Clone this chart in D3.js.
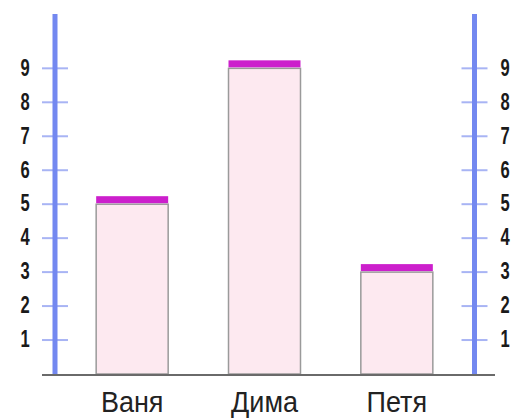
<!DOCTYPE html>
<html>
<head>
<meta charset="utf-8">
<script src="https://cdn.jsdelivr.net/npm/d3@7"></script>
<style>
  body { margin: 0; background: #fff; }
</style>
</head>
<body>
<div id="chart"></div>
<script>
//Data
var names = ["Ваня", "Дима", "Петя"];
var values = [5, 9, 3];
var ticks = [1, 2, 3, 4, 5, 6, 7, 8, 9];

//Sizes
var width = 515, height = 419;
var axisLeftX = 55, axisRightX = 474.5;
var yTop = 10.6;

var svg = d3.select("#chart").append("svg")
  .attr("width", width)
  .attr("height", height);

var x = d3.scalePoint()
  .domain(names)
  .range([66, 463])
  .padding(0.5);

var y = d3.scaleLinear()
  .domain([0, yTop])
  .range([374, 14]);

var barW = 72;

//Bars
svg.selectAll(".bar")
  .data(values)
  .enter()
  .append("rect")
  .attr("class", "bar")
  .attr("x", function(d, i) { return x(names[i]) - barW / 2; })
  .attr("y", function(d) { return y(d); })
  .attr("width", barW)
  .attr("height", function(d) { return y(0) - y(d); })
  .attr("fill", "#fde9f0")
  .attr("stroke", "#9a9a9a")
  .attr("stroke-width", 1.5);

//Magenta caps
svg.selectAll(".cap")
  .data(values)
  .enter()
  .append("rect")
  .attr("class", "cap")
  .attr("x", function(d, i) { return x(names[i]) - barW / 2; })
  .attr("y", function(d) { return y(d) - 8; })
  .attr("width", barW)
  .attr("height", 7)
  .attr("fill", "#cc1fcc");

//Baseline
svg.append("line")
  .attr("x1", 42).attr("x2", 495)
  .attr("y1", y(0) + 1).attr("y2", y(0) + 1)
  .attr("stroke", "#6a6a6a")
  .attr("stroke-width", 2);

//Axes (left and right)
function drawAxis(ax, labelX) {
  var g = svg.append("g");
  g.selectAll("line.tick")
    .data(ticks)
    .enter()
    .append("line")
    .attr("class", "tick")
    .attr("x1", ax - 13).attr("x2", ax + 13)
    .attr("y1", function(d) { return y(d); })
    .attr("y2", function(d) { return y(d); })
    .attr("stroke", "#a8b4f4")
    .attr("stroke-width", 2);
  g.append("line")
    .attr("x1", ax).attr("x2", ax)
    .attr("y1", y(0)).attr("y2", y(yTop))
    .attr("stroke", "#7388f0")
    .attr("stroke-width", 5);
  g.selectAll("text")
    .data(ticks)
    .enter()
    .append("text")
    .attr("transform", function(d) { return "translate(" + labelX + "," + (y(d) - 1) + ") scale(0.72,1)"; })
    .attr("dy", "0.36em")
    .attr("text-anchor", "middle")
    .style("font-family", "'Liberation Sans', Arial, sans-serif")
    .style("font-weight", "bold")
    .style("font-size", "23px")
    .attr("fill", "#1a1a1a")
    .text(function(d) { return d; });
}
drawAxis(axisLeftX, 25);
drawAxis(axisRightX, 505);

//Category labels
svg.selectAll(".cat")
  .data(names)
  .enter()
  .append("text")
  .attr("class", "cat")
  .attr("transform", function(d) { return "translate(" + x(d) + ",412) scale(0.9,1)"; })
  .attr("text-anchor", "middle")
  .style("font-family", "'Liberation Sans', Arial, sans-serif")
  .style("font-size", "30px")
  .attr("fill", "#222")
  .text(function(d) { return d; });
</script>
</body>
</html>
